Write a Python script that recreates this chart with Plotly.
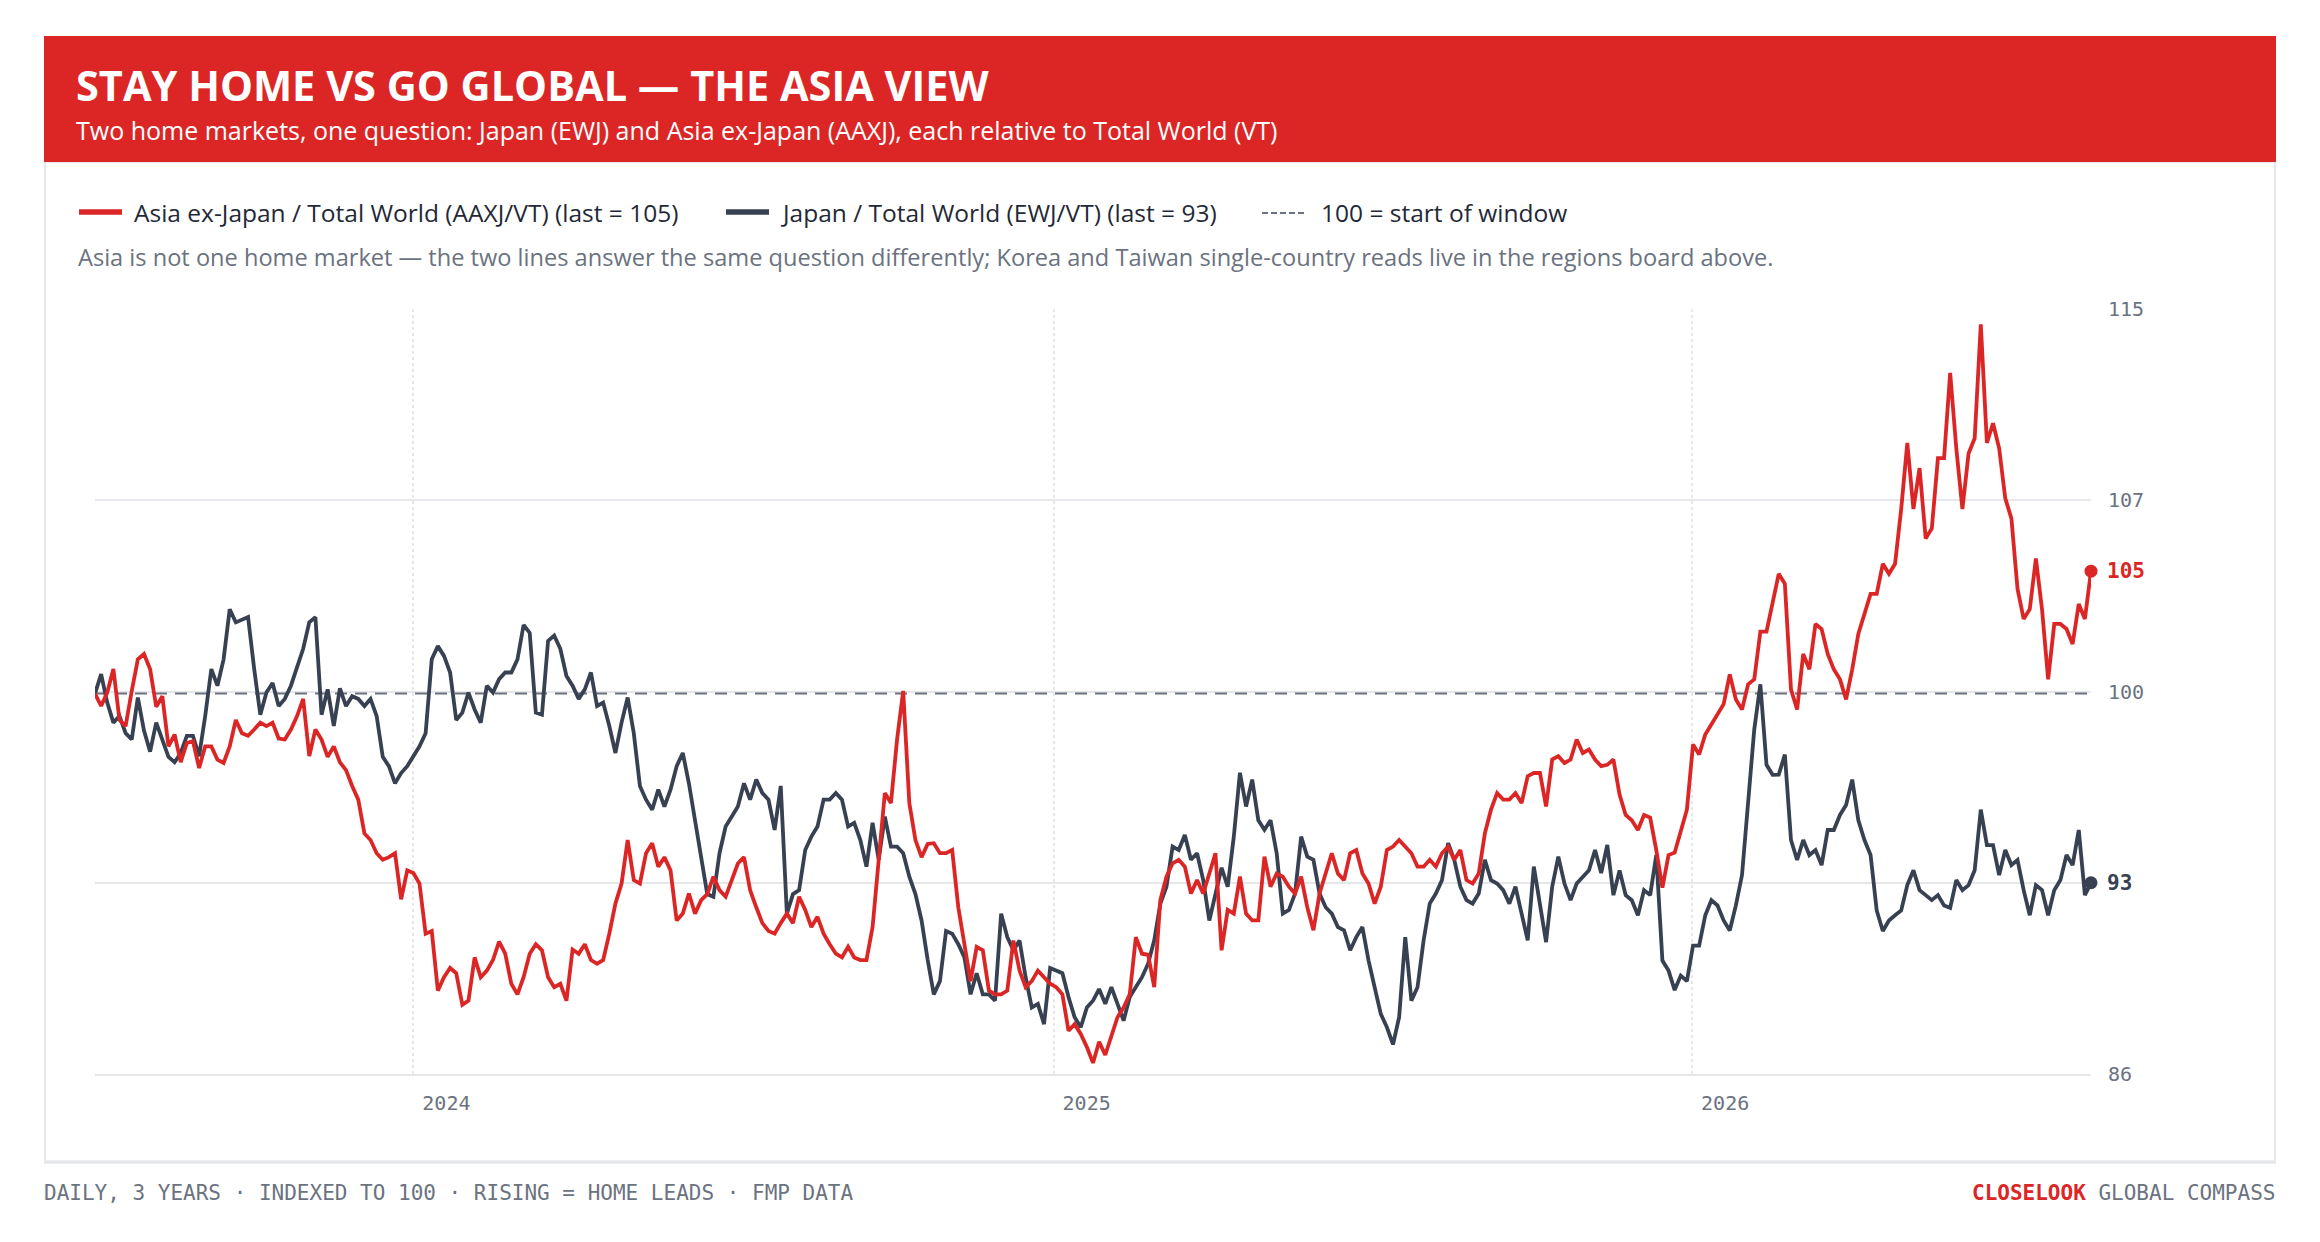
import pandas as pd
import plotly.graph_objects as go

# twice-weekly closes (start of window = 100)
days = pd.date_range("2023-07-03", periods=327, freq="84h")

aaxj_vt = [
    100.0, 99.53, 100.04, 100.93, 99.0, 98.77, 100.1, 101.3, 101.5, 100.93,
    99.5, 99.9, 98.0, 98.45, 97.4, 98.13, 98.2, 97.18, 98.0, 98.0,
    97.5, 97.37, 98.0, 99.0, 98.5, 98.4, 98.64, 98.9, 98.77, 98.9,
    98.3, 98.26, 98.64, 99.15, 99.8, 97.63, 98.64, 98.26, 97.6, 98.0,
    97.4, 97.1, 96.5, 95.98, 94.7, 94.45, 93.95, 93.7, 93.8, 93.95,
    92.2, 93.3, 93.2, 92.8, 90.9, 91.0, 88.74, 89.25, 89.6, 89.4,
    88.2, 88.36, 90.0, 89.25, 89.5, 89.9, 90.6, 90.14, 89.0, 88.6,
    89.25, 90.14, 90.5, 90.27, 89.25, 88.87, 89.0, 88.36, 90.3, 90.14,
    90.5, 89.9, 89.76, 89.9, 90.9, 92.04, 92.8, 94.45, 92.93, 92.8,
    93.95, 94.33, 93.44, 93.8, 93.3, 91.4, 91.66, 92.42, 91.66, 92.17,
    92.4, 93.06, 92.55, 92.3, 92.93, 93.56, 93.8, 92.55, 91.9, 91.3,
    91.0, 90.9, 91.3, 91.66, 91.3, 92.3, 91.8, 91.15, 91.54, 90.9,
    90.5, 90.14, 90.0, 90.4, 90.0, 89.9, 89.9, 91.15, 93.7, 96.23,
    95.85, 98.26, 100.1, 95.85, 94.45, 93.8, 94.3, 94.33, 93.95, 93.95,
    94.07, 91.9, 90.5, 89.1, 90.4, 90.27, 88.74, 88.6, 88.6, 88.74,
    90.64, 89.5, 88.87, 89.1, 89.5, 89.25, 89.0, 88.87, 88.6, 87.22,
    87.47, 87.1, 86.6, 86.0, 86.8, 86.3, 86.97, 87.73, 88.1, 88.6,
    90.77, 90.14, 90.1, 88.87, 92.17, 93.06, 93.57, 93.7, 93.44, 92.42,
    92.93, 92.42, 93.18, 93.95, 90.27, 91.8, 91.66, 93.06, 91.66, 91.4,
    91.4, 93.82, 92.68, 93.18, 93.06, 92.68, 92.42, 93.06, 91.9, 91.03,
    92.42, 93.18, 93.95, 93.18, 92.93, 93.95, 94.07, 93.18, 92.8, 92.04,
    92.68, 94.07, 94.2, 94.45, 94.2, 93.95, 93.44, 93.44, 93.7, 93.44,
    93.95, 94.2, 93.7, 94.07, 92.93, 92.8, 93.18, 94.7, 95.6, 96.23,
    95.98, 95.98, 96.23, 95.85, 96.87, 96.99, 96.99, 95.72, 97.5, 97.63,
    97.37, 97.5, 98.26, 97.75, 97.88, 97.5, 97.25, 97.3, 97.5, 96.17,
    95.4, 95.2, 94.83, 95.4, 95.3, 94.07, 92.64, 93.88, 93.97, 94.83,
    95.6, 98.07, 97.69, 98.45, 98.83, 99.2, 99.6, 100.73, 99.78, 99.4,
    100.35, 100.54, 102.35, 102.35, 103.4, 104.54, 104.16, 100.16, 99.4, 101.5,
    100.92, 102.64, 102.45, 101.5, 100.92, 100.54, 99.78, 100.92, 102.26, 103.02,
    103.78, 103.78, 104.92, 104.54, 104.92, 107.0, 109.5, 107.0, 108.55, 105.88,
    106.26, 108.93, 108.93, 112.16, 109.3, 107.0, 109.1, 109.68, 114.0, 109.5,
    110.25, 109.3, 107.4, 106.64, 103.97, 102.83, 103.2, 105.12, 103.2, 100.54,
    102.64, 102.64, 102.45, 101.88, 103.4, 102.83, 104.64,
]

ewj_vt = [
    100.0, 100.74, 99.66, 98.9, 99.15, 98.5, 98.26, 99.85, 98.6, 97.8,
    98.9, 98.26, 97.6, 97.4, 97.75, 98.4, 98.4, 97.63, 99.15, 100.93,
    100.3, 101.3, 103.2, 102.7, 102.8, 102.9, 100.93, 99.2, 100.04, 100.4,
    99.53, 99.8, 100.3, 101.05, 101.7, 102.7, 102.9, 99.2, 100.16, 98.77,
    100.2, 99.53, 99.9, 99.8, 99.53, 99.8, 99.15, 97.6, 97.25, 96.6,
    96.99, 97.25, 97.63, 98.0, 98.5, 101.3, 101.8, 101.43, 100.8, 99.0,
    99.28, 100.04, 99.4, 98.9, 100.3, 100.04, 100.55, 100.8, 100.8, 101.3,
    102.6, 102.3, 99.28, 99.2, 102.0, 102.2, 101.7, 100.67, 100.3, 99.8,
    100.16, 100.8, 99.53, 99.66, 98.77, 97.75, 98.9, 99.85, 98.5, 96.5,
    95.98, 95.6, 96.36, 95.72, 96.36, 97.25, 97.75, 96.6, 95.2, 93.7,
    92.4, 92.3, 93.95, 94.96, 95.34, 95.72, 96.6, 95.98, 96.74, 96.23,
    95.98, 94.83, 96.5, 91.66, 92.4, 92.55, 94.07, 94.58, 94.96, 95.98,
    95.98, 96.23, 95.98, 94.96, 95.1, 94.45, 93.44, 95.1, 93.7, 95.34,
    94.2, 94.2, 93.95, 93.06, 92.4, 91.4, 89.9, 88.6, 89.1, 91.0,
    90.9, 90.5, 90.0, 88.6, 89.4, 88.6, 88.6, 88.36, 91.66, 90.77,
    90.27, 90.64, 89.25, 88.1, 88.24, 87.47, 89.6, 89.5, 89.4, 88.5,
    87.73, 87.35, 88.1, 88.36, 88.8, 88.24, 88.87, 88.24, 87.6, 88.5,
    88.87, 89.25, 89.76, 90.65, 92.04, 92.68, 94.2, 94.07, 94.64, 93.7,
    93.95, 92.93, 91.4, 92.42, 93.4, 92.68, 94.58, 97.0, 95.72, 96.74,
    95.2, 94.84, 95.2, 93.95, 91.66, 91.8, 92.42, 94.58, 93.82, 93.7,
    92.42, 91.9, 91.66, 91.15, 91.03, 90.27, 90.77, 91.15, 89.89, 88.87,
    87.86, 87.35, 86.7, 87.73, 90.77, 88.36, 88.87, 90.65, 92.04, 92.42,
    92.93, 94.33, 93.7, 92.68, 92.17, 92.04, 92.42, 93.7, 92.93, 92.8,
    92.55, 92.04, 92.68, 91.66, 90.65, 93.44, 92.04, 90.58, 92.68, 93.82,
    92.8, 92.17, 92.8, 93.06, 93.3, 94.07, 93.2, 94.26, 92.36, 93.3,
    92.36, 92.17, 91.6, 92.55, 92.36, 93.88, 89.88, 89.5, 88.76, 89.31,
    89.1, 90.45, 90.45, 91.6, 92.17, 91.97, 91.4, 91.02, 91.97, 93.12,
    95.97, 98.64, 100.35, 97.3, 96.92, 96.93, 97.69, 94.45, 93.69, 94.45,
    93.88, 94.07, 93.5, 94.83, 94.83, 95.4, 95.78, 96.74, 95.2, 94.45,
    93.88, 91.78, 91.0, 91.4, 91.6, 91.78, 92.74, 93.3, 92.55, 92.36,
    92.17, 92.36, 91.97, 91.88, 92.93, 92.55, 92.74, 93.3, 95.6, 94.26,
    94.26, 93.12, 94.07, 93.5, 93.69, 92.55, 91.6, 92.74, 92.55, 91.6,
    92.55, 92.93, 93.88, 93.5, 94.83, 92.36, 92.83,
]

y_ticks = [85.58, 92.83, 100.08, 107.33, 114.58]
y_tick_labels = ["86", "93", "100", "107", "115"]
year_ticks = ["2024-01-01", "2025-01-01", "2026-01-01"]
year_labels = ["2024", "2025", "2026"]

RED = "#dc2626"
INK = "#374151"
GREY = "#6b7280"
GRID = "#e5e7eb"
SANS = "Open Sans"
MONO = "DejaVu Sans Mono"

W, H = 2320, 1242
L, R, T, B = 95, 2091, 309, 1074   # plot area in pixels


def px_x(px):
    return (px - L) / (R - L)


def px_y(py):
    return (B - py) / (B - T)


last_a = aaxj_vt[-1]
last_j = ewj_vt[-1]
name_a = f"Asia ex-Japan / Total World (AAXJ/VT) (last = {last_a:.0f})"
name_j = f"Japan / Total World (EWJ/VT) (last = {last_j:.0f})"
name_base = "100 = start of window"

# end labels take the place of a tick label with the same text
end_texts = {f"{last_a:.0f}", f"{last_j:.0f}"}
shown_ticks = ["" if t in end_texts else t for t in y_tick_labels]

fig = go.Figure()

# baseline at 100
fig.add_trace(go.Scatter(
    x=[days[0], days[-1]], y=[100, 100], mode="lines",
    line=dict(color=GREY, width=2, dash="12px,8px"),
    name=name_base, hoverinfo="skip"))

fig.add_trace(go.Scatter(x=days, y=ewj_vt, mode="lines",
                         line=dict(color=INK, width=3.8), name=name_j))
fig.add_trace(go.Scatter(x=days, y=aaxj_vt, mode="lines",
                         line=dict(color=RED, width=3.8), name=name_a))

# end dots
fig.add_trace(go.Scatter(x=[days[-1]], y=[last_j], mode="markers", cliponaxis=False,
                         marker=dict(color=INK, size=13)))
fig.add_trace(go.Scatter(x=[days[-1]], y=[last_a], mode="markers", cliponaxis=False,
                         marker=dict(color=RED, size=13)))

shapes = [
    # card
    dict(type="rect", xref="paper", yref="paper",
         x0=px_x(45), x1=px_x(2275), y0=px_y(1162), y1=px_y(162),
         line=dict(color=GRID, width=2), fillcolor="rgba(0,0,0,0)", layer="below"),
    dict(type="line", xref="paper", yref="paper",
         x0=px_x(44), x1=px_x(2276), y0=px_y(1162), y1=px_y(1162),
         line=dict(color=GRID, width=3.5)),
    # red header band
    dict(type="rect", xref="paper", yref="paper",
         x0=px_x(44), x1=px_x(2276), y0=px_y(162), y1=px_y(36),
         line=dict(width=0), fillcolor=RED, layer="below"),
    # legend keys
    dict(type="line", xref="paper", yref="paper",
         x0=px_x(79), x1=px_x(122), y0=px_y(212), y1=px_y(212),
         line=dict(color=RED, width=5.5)),
    dict(type="line", xref="paper", yref="paper",
         x0=px_x(726), x1=px_x(769), y0=px_y(212), y1=px_y(212),
         line=dict(color=INK, width=5.5)),
    dict(type="line", xref="paper", yref="paper",
         x0=px_x(1262), x1=px_x(1306), y0=px_y(213), y1=px_y(213),
         line=dict(color=GREY, width=2, dash="6px,3px")),
]

annotations = [
    dict(text="<b>STAY HOME VS GO GLOBAL — THE ASIA VIEW</b>",
         x=px_x(74), y=px_y(85), xanchor="left", yanchor="middle",
         font=dict(family=SANS, size=41.5, color="white")),
    dict(text="Two home markets, one question: Japan (EWJ) and Asia ex-Japan (AAXJ), each relative to Total World (VT)",
         x=px_x(74), y=px_y(130), xanchor="left", yanchor="middle",
         font=dict(family=SANS, size=25, color="white")),
    dict(text=name_a, x=px_x(132), y=px_y(212), xanchor="left", yanchor="middle",
         font=dict(family=SANS, size=24.5, color="#1f2937")),
    dict(text=name_j, x=px_x(779), y=px_y(212), xanchor="left", yanchor="middle",
         font=dict(family=SANS, size=24.5, color="#1f2937")),
    dict(text=name_base, x=px_x(1319), y=px_y(212), xanchor="left", yanchor="middle",
         font=dict(family=SANS, size=24.5, color="#1f2937")),
    dict(text="Asia is not one home market — the two lines answer the same question differently; "
              "Korea and Taiwan single-country reads live in the regions board above.",
         x=px_x(76), y=px_y(257), xanchor="left", yanchor="middle",
         font=dict(family=SANS, size=23.6, color=GREY)),
    dict(text="DAILY, 3 YEARS · INDEXED TO 100 · RISING = HOME LEADS · FMP DATA",
         x=px_x(42), y=px_y(1193), xanchor="left", yanchor="middle",
         font=dict(family=MONO, size=21, color=GREY)),
    dict(text=f"<b><span style='color:{RED}'>CLOSELOOK</span></b> GLOBAL COMPASS",
         x=px_x(2277), y=px_y(1193), xanchor="right", yanchor="middle",
         font=dict(family=MONO, size=21, color=GREY)),
    # end labels
    dict(text=f"<b>{last_a:.0f}</b>", x=px_x(R + 14), y=last_a, yref="y",
         xanchor="left", yanchor="middle",
         font=dict(family=MONO, size=21, color=RED)),
    dict(text=f"<b>{last_j:.0f}</b>", x=px_x(R + 14), y=last_j, yref="y",
         xanchor="left", yanchor="middle",
         font=dict(family=MONO, size=21, color=INK)),
]
for a in annotations:
    a.setdefault("xref", "paper")
    a.setdefault("yref", "paper")
    a["showarrow"] = False

fig.update_layout(
    width=W, height=H,
    margin=dict(l=L, r=W - R, t=T, b=H - B),
    paper_bgcolor="white", plot_bgcolor="white",
    showlegend=False,
    shapes=shapes,
    annotations=annotations,
    hovermode=False,
)

fig.update_xaxes(
    range=[days[0], days[-1]],
    tickvals=year_ticks, ticktext=year_labels,
    showgrid=True, gridcolor=GRID, griddash="dot", gridwidth=1.5,
    ticks="", ticklabelshift=33, ticklabelstandoff=10,
    tickfont=dict(family=MONO, size=20, color=GREY),
    showline=True, linecolor=GRID, linewidth=2,
    zeroline=False,
)
fig.update_yaxes(
    range=[y_ticks[0], y_ticks[-1]], side="right",
    tickvals=y_ticks, ticktext=shown_ticks,
    showgrid=True, gridcolor=GRID, gridwidth=1.5,
    ticks="", ticklabelstandoff=16,
    tickfont=dict(family=MONO, size=20, color=GREY),
    zeroline=False, showline=False,
)

fig.write_html("out.html", config={"displayModeBar": False},
               post_script="document.body.style.margin='0';")
